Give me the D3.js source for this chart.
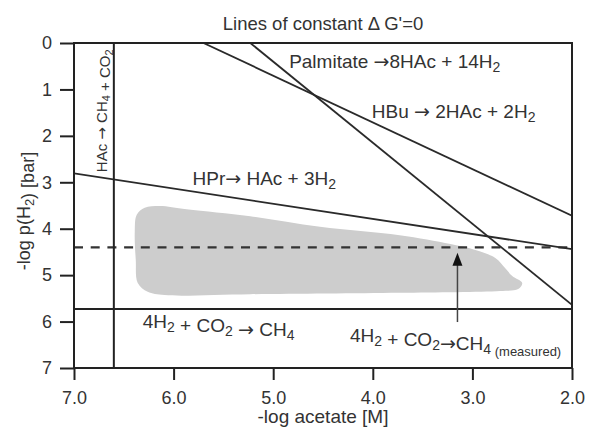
<!DOCTYPE html>
<html lang="en">
<head>
<meta charset="utf-8">
<title>Lines of constant ΔG'=0</title>
<script src="https://cdn.jsdelivr.net/npm/d3@7/dist/d3.min.js"></script>
<style type="text/css">
    body { margin: 0; background: #fff; }
    svg { font-family: "Liberation Sans", Arial, sans-serif; fill: #222; }
    .axis path, .axis line { stroke: #222; stroke-width: 2; }
    .axis text { font-size: 18px; fill: #333; }
    .rxn { font-size: 19px; fill: #333; }
    .arr { font-family: "DejaVu Sans", sans-serif; }
</style>
</head>
<body>
<div id="chart"></div>
<script>
// x = -log acetate [M], y = -log p(H2) [bar]
const xTicks = [7.0, 6.0, 5.0, 4.0, 3.0, 2.0];
const yTicks = [0, 1, 2, 3, 4, 5, 6, 7];

// lines of dG'=0
const palmitateLine = [[5.23, 0], [2.0, 5.64]];
const hbuLine = [[5.70, 0], [2.0, 3.72]];
const hprLine = [[7.0, 2.81], [2.0, 4.44]];
const acetoclasticX = 6.6;      // HAc -> CH4 + CO2 (vertical)
const hydrogenoY = 5.73;        // 4H2 + CO2 -> CH4
const measuredY = 4.40;         // measured, dashed

// shaded region (outline of measured conditions)
const regionX = [6.39, 6.37, 6.29, 6.14, 5.87, 5.23, 4.53, 3.73, 3.22, 2.97, 2.77, 2.67, 2.60, 2.50, 2.54, 2.72, 3.73, 5.23, 6.09, 6.26, 6.36, 6.38];
const regionY = [4.07, 3.70, 3.55, 3.51, 3.58, 3.73, 3.96, 4.14, 4.33, 4.46, 4.63, 4.85, 5.02, 5.17, 5.30, 5.34, 5.38, 5.41, 5.43, 5.36, 5.17, 4.67];

// arrow from the label up to the dashed line
const arrowX = 3.15;
const arrowFrom = 6.01, arrowTo = 4.52;

const margin = {top: 43, right: 17, bottom: 64, left: 74},
    width = 589 - margin.left - margin.right,
    height = 432 - margin.top - margin.bottom;

const x = d3.scaleLinear().domain([7, 2]).range([0, width]);
const y = d3.scaleLinear().domain([0, 7]).range([0, height]);

const root = d3.select("#chart").append("svg")
    .attr("width", 589)
    .attr("height", 432);

const svg = root.append("g")
    .attr("transform", "translate(" + margin.left + "," + margin.top + ")");

svg.append("defs").append("clipPath").attr("id", "clip")
    .append("rect").attr("width", width).attr("height", height);

// small helper: "_x" makes the next char a subscript, "~" is the arrow
function richText(sel, str, subSize) {
    let i = 0;
    while (i < str.length) {
        if (str[i] === "_") {
            sel.append("tspan").attr("dy", "0.28em").attr("font-size", subSize).text(str[i + 1]);
            sel.append("tspan").attr("dy", "-0.28em").text("");
            i += 2;
        } else if (str[i] === "~") {
            sel.append("tspan").attr("class", "arr").text("\u2192");
            i += 1;
        } else {
            let j = i;
            while (j < str.length && str[j] !== "_" && str[j] !== "~") j++;
            sel.append("tspan").text(str.slice(i, j));
            i = j;
        }
    }
    return sel;
}

// shaded region
const region = regionX.map((d, i) => [d, regionY[i]]);
svg.append("path")
    .attr("d", d3.line().x(d => x(d[0])).y(d => y(d[1])).curve(d3.curveCatmullRomClosed.alpha(0.5))(region))
    .attr("fill", "#cdcdcd");

const plot = svg.append("g").attr("clip-path", "url(#clip)");

// dashed measured line
plot.append("line")
    .attr("x1", x(7)).attr("x2", x(2))
    .attr("y1", y(measuredY)).attr("y2", y(measuredY))
    .attr("stroke", "#333").attr("stroke-width", 2.2)
    .attr("stroke-dasharray", "9,7.7");

const line = d3.line().x(d => x(d[0])).y(d => y(d[1]));
[palmitateLine, hbuLine, hprLine].forEach(l => {
    plot.append("path")
        .attr("d", line(l))
        .attr("fill", "none")
        .attr("stroke", "#2a2a2a")
        .attr("stroke-width", 1.8);
});

svg.append("line")
    .attr("x1", x(acetoclasticX)).attr("x2", x(acetoclasticX))
    .attr("y1", 0).attr("y2", height)
    .attr("stroke", "#222").attr("stroke-width", 2);

svg.append("line")
    .attr("x1", 0).attr("x2", width)
    .attr("y1", y(hydrogenoY)).attr("y2", y(hydrogenoY))
    .attr("stroke", "#222").attr("stroke-width", 2);

// arrow
svg.append("line")
    .attr("x1", x(arrowX)).attr("x2", x(arrowX))
    .attr("y1", y(arrowFrom)).attr("y2", y(arrowTo) + 10)
    .attr("stroke", "#444").attr("stroke-width", 1.5);
svg.append("path")
    .attr("d", "M" + x(arrowX) + "," + y(arrowTo) + "l-5,13h10z")
    .attr("fill", "#111");

// frame
svg.append("rect")
    .attr("width", width).attr("height", height)
    .attr("fill", "none").attr("stroke", "#222").attr("stroke-width", 2);

// axes
svg.append("g")
    .attr("class", "axis")
    .call(d3.axisLeft(y).tickValues(yTicks).tickSize(14).tickPadding(8).tickFormat(d3.format("d")))
    .call(g => g.select(".domain").remove());

svg.append("g")
    .attr("class", "axis")
    .attr("transform", "translate(0," + height + ")")
    .call(d3.axisBottom(x).tickValues(xTicks).tickSize(12).tickPadding(11).tickFormat(d3.format(".1f")))
    .call(g => g.select(".domain").remove());

// titles
root.append("text")
    .attr("x", margin.left + width / 2).attr("y", 30)
    .attr("text-anchor", "middle")
    .attr("font-size", 18.5).attr("fill", "#333")
    .text("Lines of constant \u0394 G'=0");

root.append("text")
    .attr("x", margin.left + width / 2).attr("y", 423)
    .attr("text-anchor", "middle")
    .attr("font-size", 19).attr("fill", "#333")
    .text("-log acetate [M]");

richText(root.append("text")
    .attr("transform", "translate(30,211) rotate(-90)")
    .attr("text-anchor", "middle")
    .attr("font-size", 18).attr("fill", "#333"), "-log p(H_2) [bar]", 13);

// reaction labels
richText(svg.append("text").attr("class", "rxn")
    .attr("x", x(4.84)).attr("y", y(0.54)), "Palmitate ~8HAc + 14H_2", 14);
richText(svg.append("text").attr("class", "rxn")
    .attr("x", x(4.01)).attr("y", y(1.615)), "HBu ~ 2HAc + 2H_2", 14);
richText(svg.append("text").attr("class", "rxn")
    .attr("x", x(5.81)).attr("y", y(3.06)), "HPr~ HAc + 3H_2", 14);
richText(svg.append("text").attr("class", "rxn")
    .attr("x", x(6.31)).attr("y", y(6.14)), "4H_2 + CO_2 ~ CH_4", 14);
const meas = richText(svg.append("text").attr("class", "rxn")
    .attr("x", x(4.23)).attr("y", y(6.44)), "4H_2 + CO_2~CH_4", 14);
meas.append("tspan").attr("dy", "0.18em").attr("font-size", 13).text(" (measured)");

richText(svg.append("text")
    .attr("transform", "translate(" + x(6.67) + "," + y(1.46) + ") rotate(-90)")
    .attr("text-anchor", "middle")
    .attr("font-size", 15).attr("fill", "#333"), "HAc ~ CH_4 + CO_2", 11);
</script>
</body>
</html>
